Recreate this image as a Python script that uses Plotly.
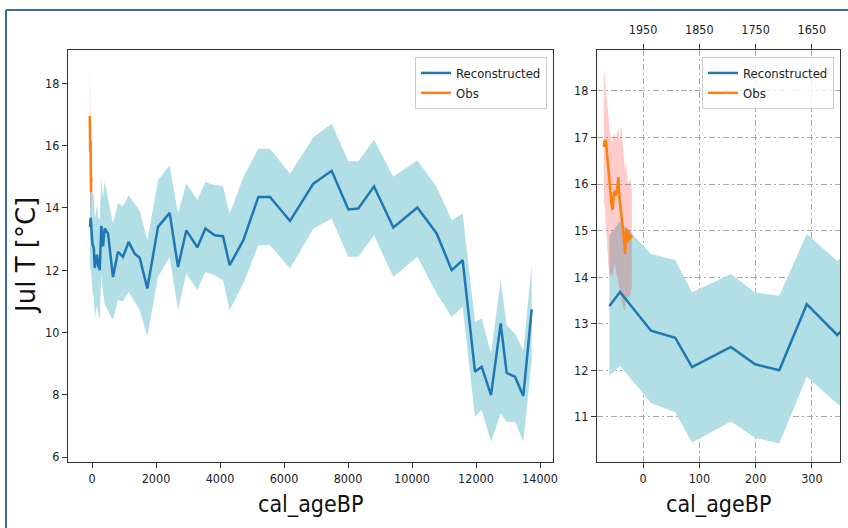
import plotly.graph_objects as go

# ---------------- data ----------------
rec_age = [-60, -41, 14, 57, 87, 156, 199, 242, 291, 345, 396, 500, 656, 812, 969,
           1146, 1333, 1490, 1729, 2063, 2427, 2688, 2948, 3292, 3542, 3833, 4094,
           4302, 4729, 5198, 5563, 6188, 6917, 7490, 8010, 8323, 8813, 9417, 10167,
           10771, 11240, 11583, 11969, 12177, 12469, 12771, 12958, 13219, 13479, 13740]
rec_t = [13.38, 13.68, 12.85, 12.70, 12.07, 12.50, 12.13, 12.00, 13.42, 12.76, 13.34,
         13.18, 11.78, 12.59, 12.43, 12.91, 12.53, 12.40, 11.41, 13.39, 13.84, 12.10,
         13.28, 12.73, 13.34, 13.12, 13.09, 12.16, 12.96, 14.35, 14.35, 13.58, 14.78,
         15.19, 13.95, 13.98, 14.69, 13.37, 14.01, 13.18, 12.00, 12.32, 8.74, 8.90,
         7.99, 10.29, 8.70, 8.58, 7.96, 10.74]
rec_hi = [14.9, 15.2, 14.5, 14.37, 13.67, 14.07, 13.67, 13.6, 14.93, 14.35, 14.85,
          14.3, 13.5, 14.15, 14.05, 14.4, 14.15, 13.92, 12.95, 14.89, 15.37, 13.82,
          14.78, 14.25, 14.83, 14.73, 14.7, 13.8, 14.99, 15.9, 15.9, 15.1, 16.27,
          16.7, 15.5, 15.5, 16.19, 15.0, 15.53, 14.67, 13.6, 13.82, 10.34, 10.45,
          9.33, 11.68, 10.23, 9.97, 9.43, 12.16]
rec_lo = [11.88, 12.1, 11.3, 11.1, 10.45, 10.9, 10.55, 10.43, 11.86, 11.28, 10.9,
          10.7, 10.4, 11.04, 11.0, 11.3, 10.98, 10.72, 9.86, 11.78, 12.42, 10.72,
          11.89, 11.36, 11.94, 11.84, 11.68, 10.72, 11.57, 12.8, 12.8, 12.05, 13.33,
          13.65, 12.43, 12.43, 13.12, 11.78, 12.43, 11.25, 10.5, 10.82, 7.29, 7.51,
          6.49, 7.4, 7.13, 7.13, 6.49, 9.11]

obs_age = [-70, -68, -66, -64, -62, -60, -58, -56, -54, -52, -50, -48, -46, -44,
           -42, -40, -38, -36, -34, -32, -30, -28, -26, -24, -22, -20]
obs_t = [16.8, 16.95, 16.9, 16.6, 16.35, 16.1, 15.8, 15.55, 15.45, 15.8, 15.85,
         15.75, 15.9, 16.15, 15.7, 15.5, 15.2, 15.05, 14.8, 14.5, 15.05, 14.75,
         15.0, 14.8, 14.9, 14.85]
obs_hi = [18.45, 18.3, 18.0, 17.7, 17.4, 17.2, 17.0, 16.9, 17.0, 17.1, 17.0, 16.95,
          17.1, 17.2, 16.9, 17.2, 17.2, 16.8, 16.5, 16.3, 16.5, 16.1, 16.0, 16.1,
          16.1, 15.9]
obs_lo = [15.6, 15.5, 15.2, 14.7, 14.3, 14.1, 14.0, 14.1, 14.0, 14.2, 14.3, 14.1,
          14.0, 13.9, 13.7, 13.6, 13.5, 13.4, 13.3, 13.3, 13.6, 13.5, 13.6, 13.5,
          13.7, 13.8]

left_xticks = [0, 2000, 4000, 6000, 8000, 10000, 12000, 14000]
left_yticks = [6, 8, 10, 12, 14, 16, 18]
right_xticks = [0, 100, 200, 300]
right_yticks = [11, 12, 13, 14, 15, 16, 17, 18]
top_years = [1950, 1850, 1750, 1650]

x_title = "cal_ageBP"
y_title = "Jul T [°C]"
rec_name = "Reconstructed"
obs_name = "Obs"

# ---------------- layout geometry ----------------
W, H = 848, 528
ML, MR, MT, MB = 68, 8, 50, 66
PW, PH = W - ML - MR, H - MT - MB


def fx(p):
    return (p - ML) / PW


def fy(p):
    return (H - MB - p) / PH


TEAL = "#b2dfe6"
PINK = "rgba(255,0,0,0.2)"
BLUE = "#1f77b4"
ORANGE = "#ff7f0e"
SPINE = "#333333"
FONT = "DejaVu Sans Condensed, DejaVu Sans"
TICKFONT = dict(family=FONT, size=12.5, color="#222222")

fig = go.Figure()

for xa, ya, leg in [("x", "y", "legend"), ("x2", "y2", "legend2")]:
    fig.add_trace(go.Scatter(
        x=rec_age + rec_age[::-1], y=rec_hi + rec_lo[::-1],
        fill="toself", fillcolor=TEAL, mode="lines", line=dict(width=0),
        hoverinfo="skip", showlegend=False, xaxis=xa, yaxis=ya))
    fig.add_trace(go.Scatter(
        x=obs_age + obs_age[::-1], y=obs_hi + obs_lo[::-1],
        fill="toself", fillcolor=PINK, mode="lines", line=dict(width=0),
        hoverinfo="skip", showlegend=False, xaxis=xa, yaxis=ya))
    fig.add_trace(go.Scatter(
        x=rec_age, y=rec_t, mode="lines", name=rec_name,
        line=dict(color=BLUE, width=2.5), legend=leg, xaxis=xa, yaxis=ya))
    fig.add_trace(go.Scatter(
        x=obs_age, y=obs_t, mode="lines", name=obs_name,
        line=dict(color=ORANGE, width=2.5), legend=leg, xaxis=xa, yaxis=ya))

# helper trace so the top (calendar year) axis is drawn
fig.add_trace(go.Scatter(x=top_years, y=[None] * len(top_years), mode="lines",
                         showlegend=False, hoverinfo="skip", xaxis="x3", yaxis="y2"))

axis_common = dict(showline=True, linecolor=SPINE, linewidth=1.2, mirror=True,
                   ticks="outside", ticklen=5, tickwidth=1.2, tickcolor=SPINE,
                   zeroline=False, tickfont=TICKFONT, tickformat="d")
grid = dict(showgrid=True, gridcolor="#aaaaaa", gridwidth=1, griddash="6px,3px,2px,3px")

fig.update_layout(
    width=W, height=H,
    margin=dict(l=ML, r=MR, t=MT, b=MB, autoexpand=False),
    paper_bgcolor="white", plot_bgcolor="white",
    xaxis=dict(domain=[0, fx(553)], range=[-750, 14406], tickvals=left_xticks,
               anchor="y", showgrid=False, **axis_common),
    yaxis=dict(domain=[0, 1], range=[5.84, 19.07], tickvals=left_yticks,
               anchor="x", showgrid=False, **axis_common),
    xaxis2=dict(domain=[fx(597), 1], range=[-82, 350], tickvals=right_xticks,
                anchor="y2", **grid, **axis_common),
    yaxis2=dict(domain=[0, 1], range=[10.03, 18.88], tickvals=right_yticks,
                anchor="x2", **grid, **axis_common),
    xaxis3=dict(overlaying="x2", side="top", anchor="y2", range=[2032, 1600],
                tickvals=top_years, ticks="outside", ticklen=5, tickwidth=1.2,
                tickcolor=SPINE, showline=False, showgrid=False, zeroline=False,
                tickfont=TICKFONT, tickformat="d", ticklabelstandoff=5),
    legend=dict(x=fx(547), y=fy(57), xanchor="right", yanchor="top",
                bgcolor="rgba(255,255,255,0.8)", bordercolor="#cccccc", borderwidth=1,
                font=dict(family=FONT, size=13, color="#222222"), traceorder="normal"),
    legend2=dict(x=fx(834), y=fy(57), xanchor="right", yanchor="top",
                 bgcolor="rgba(255,255,255,0.8)", bordercolor="#cccccc", borderwidth=1,
                 font=dict(family=FONT, size=13, color="#222222"), traceorder="normal"),
    showlegend=True,
)

title_font = dict(family=FONT, size=23, color="#111111")
fig.add_annotation(text=x_title, xref="paper", yref="paper", x=fx((68 + 553) / 2),
                   y=fy(504), xanchor="center", yanchor="middle", showarrow=False,
                   font=title_font)
fig.add_annotation(text=x_title, xref="paper", yref="paper", x=fx((597 + 840) / 2),
                   y=fy(504), xanchor="center", yanchor="middle", showarrow=False,
                   font=title_font)
fig.add_annotation(text=y_title, xref="paper", yref="paper", x=fx(26), y=fy(256),
                   xanchor="center", yanchor="middle", textangle=-90, showarrow=False,
                   font=dict(family="DejaVu Sans", size=26, color="#111111"))

# outer frame of the picture (left and top edges visible)
BORDER = "#3d6a9e"
fig.add_shape(type="line", xref="paper", yref="paper", x0=fx(6), x1=fx(6),
              y0=fy(560), y1=fy(10), line=dict(color=BORDER, width=2))
fig.add_shape(type="line", xref="paper", yref="paper", x0=fx(6), x1=fx(870),
              y0=fy(10), y1=fy(10), line=dict(color=BORDER, width=2))

fig.write_html("out.html",
               config={"displayModeBar": False},
               post_script="document.body.style.margin='0';document.body.style.overflow='hidden';")
